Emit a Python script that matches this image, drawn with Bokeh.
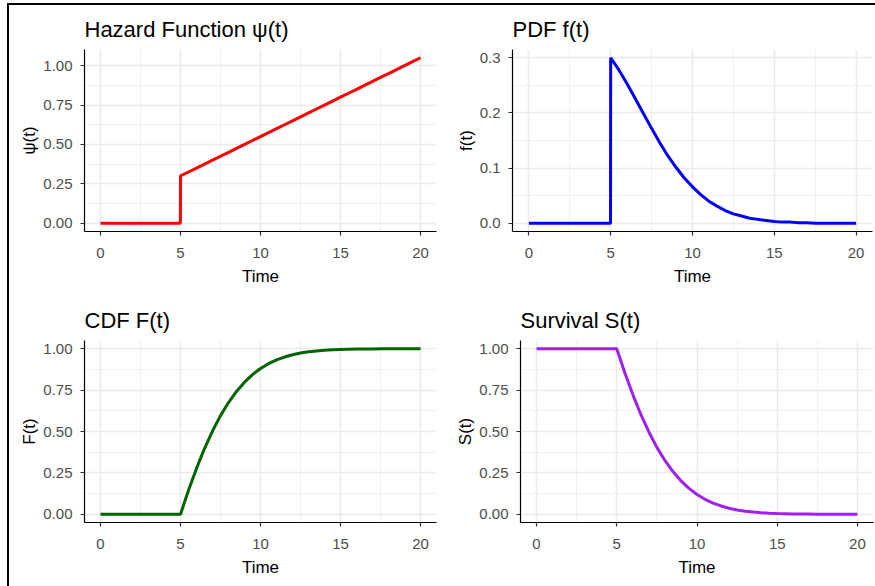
from bokeh.plotting import figure
from bokeh.layouts import column, row
from bokeh.models import FixedTicker, NumeralTickFormatter, Range1d, ColumnDataSource
from bokeh.embed import file_html
from bokeh.resources import INLINE

# ---- data ----
time = [0, 4.99, 5.0, 5.5, 6.0, 6.5, 7.0, 7.5, 8.0, 8.5, 9.0, 9.5, 10.0, 10.5, 11.0,
        11.5, 12.0, 12.5, 13.0, 13.5, 14.0, 14.5, 15.0, 15.5, 16.0, 16.5, 17.0,
        17.5, 18.0, 18.5, 19.0, 19.5, 20.0]
hazard = [0.0, 0.0, 0.300, 0.325, 0.350, 0.375, 0.400, 0.425, 0.450, 0.475, 0.500,
          0.525, 0.550, 0.575, 0.600, 0.625, 0.650, 0.675, 0.700, 0.725, 0.750,
          0.775, 0.800, 0.825, 0.850, 0.875, 0.900, 0.925, 0.950, 0.975, 1.000,
          1.025, 1.050]
pdf = [0.0, 0.0, 0.300, 0.278, 0.253, 0.226, 0.199, 0.172, 0.146, 0.122, 0.101,
       0.082, 0.066, 0.052, 0.040, 0.031, 0.023, 0.017, 0.013, 0.009, 0.007,
       0.005, 0.003, 0.002, 0.002, 0.001, 0.001, 0.000, 0.000, 0.000, 0.000,
       0.000, 0.000]
cdf = [0.0, 0.0, 0.000, 0.145, 0.277, 0.397, 0.503, 0.596, 0.675, 0.742, 0.798,
       0.844, 0.881, 0.910, 0.933, 0.950, 0.964, 0.974, 0.982, 0.987, 0.991,
       0.994, 0.996, 0.997, 0.998, 0.999, 0.999, 1.000, 1.000, 1.000, 1.000,
       1.000, 1.000]
survival = [1.0, 1.0, 1.000, 0.855, 0.723, 0.603, 0.497, 0.404, 0.325, 0.258, 0.202,
            0.156, 0.119, 0.090, 0.067, 0.050, 0.036, 0.026, 0.018, 0.013, 0.009,
            0.006, 0.004, 0.003, 0.002, 0.001, 0.001, 0.000, 0.000, 0.000, 0.000,
            0.000, 0.000]

x_ticks = [0, 5, 10, 15, 20]
x_minor = [2.5, 7.5, 12.5, 17.5]
unit_ticks = [0.0, 0.25, 0.5, 0.75, 1.0]
unit_minor = [0.125, 0.375, 0.625, 0.875]
pdf_ticks = [0.0, 0.1, 0.2, 0.3]
pdf_minor = [0.05, 0.15, 0.25]

FONT = "Liberation Sans"


def panel(title, ylab, y, color, yr, yt, ym, fmt, width, height, bl, br, bt, bb):
    p = figure(width=width, height=height, output_backend="svg", toolbar_location=None,
               x_range=Range1d(-1, 21), y_range=Range1d(*yr),
               min_border_left=bl, min_border_right=br, min_border_top=bt,
               min_border_bottom=bb, title=title)
    p.outline_line_color = None
    p.background_fill_color = "white"
    p.border_fill_color = "white"
    src = ColumnDataSource(dict(t=time, v=y))
    p.line("t", "v", source=src, line_color=color, line_width=3)

    p.title.text_font = FONT
    p.title.text_font_size = "22px"
    p.title.text_font_style = "normal"
    p.title.text_color = "black"
    p.title.align = "left"
    p.title.standoff = 15

    p.xaxis.ticker = FixedTicker(ticks=x_ticks, minor_ticks=x_minor)
    p.yaxis.ticker = FixedTicker(ticks=yt, minor_ticks=ym)
    p.yaxis.formatter = NumeralTickFormatter(format=fmt)
    p.xaxis.axis_label = "Time"
    p.yaxis.axis_label = ylab
    for ax in (p.xaxis, p.yaxis):
        ax.axis_line_color = "black"
        ax.axis_line_width = 1.2
        ax.major_tick_line_color = "#333333"
        ax.major_tick_line_width = 1.2
        ax.major_tick_out = 4
        ax.major_tick_in = 0
        ax.minor_tick_line_color = None
        ax.major_label_text_font = FONT
        ax.major_label_text_font_size = "15px"
        ax.major_label_text_color = "#4d4d4d"
        ax.axis_label_text_font = FONT
        ax.axis_label_text_font_size = "17px"
        ax.axis_label_text_font_style = "normal"
        ax.axis_label_text_color = "black"
    p.xaxis.major_label_standoff = 12
    p.xaxis.axis_label_standoff = 6
    p.yaxis.major_label_standoff = 8
    p.yaxis.axis_label_standoff = 1

    for g in (p.xgrid, p.ygrid):
        g.grid_line_color = "#ebebeb"
        g.grid_line_width = 1.6
        g.minor_grid_line_color = "#f0f0f0"
        g.minor_grid_line_width = 1
    return p


p1 = panel("Hazard Function \u03c8(t)", "\u03c8(t)", hazard, "#ff0000",
           (-0.0525, 1.1025), unit_ticks, unit_minor, "0.00",
           428, 285, 75, 1, 44, 59)
p2 = panel("PDF f(t)", "f(t)", pdf, "#0000ff",
           (-0.015, 0.315), pdf_ticks, pdf_minor, "0.0",
           438, 285, 75, 3, 44, 59)
p3 = panel("CDF F(t)", "F(t)", cdf, "#006400",
           (-0.05, 1.05), unit_ticks, unit_minor, "0.00",
           428, 296, 75, 1, 50, 64)
p4 = panel("Survival S(t)", "S(t)", survival, "#a020f0",
           (-0.05, 1.05), unit_ticks, unit_minor, "0.00",
           438, 296, 83, 2, 50, 64)

layout = column(row(p1, p2), row(p3, p4), margin=(3, 0, 0, 7),
                styles={"border-left": "2px solid black", "border-top": "2px solid black"})

open("out.html", "w").write(file_html(layout, INLINE))
